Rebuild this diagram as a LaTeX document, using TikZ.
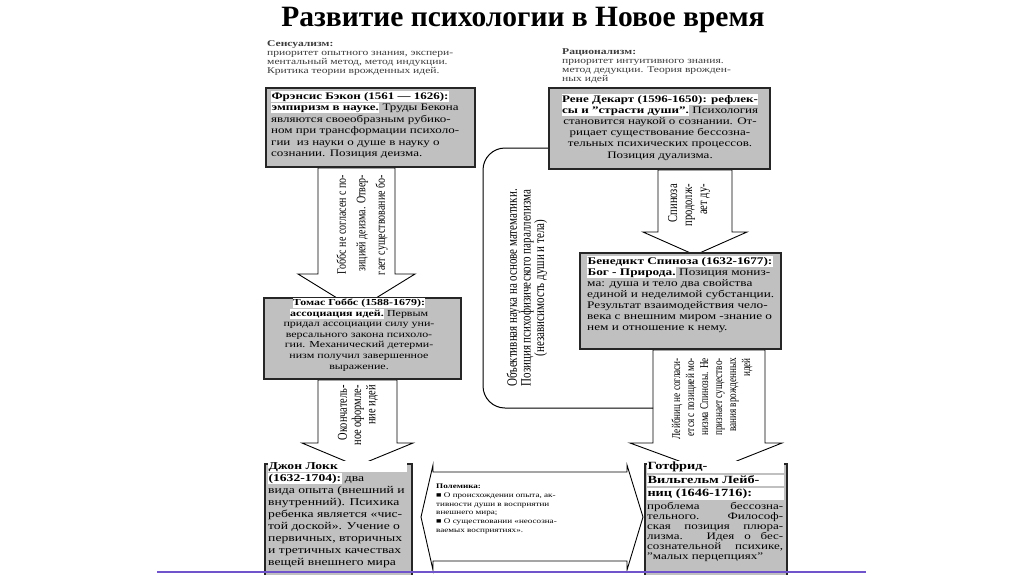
\documentclass[tikz,border=0pt]{standalone}
\usepackage{fontspec}
\setmainfont{Liberation Serif}[FakeStretch=1.3]
\newfontfamily\plainserif{Liberation Serif}
\usetikzlibrary{calc,backgrounds}
\definecolor{boxgray}{RGB}{192,192,192}
\definecolor{footline}{RGB}{112,84,204}
\definecolor{headgray}{RGB}{60,60,60}
\newcommand\hlw[1]{{\setlength{\fboxsep}{0.3pt}\colorbox{white}{\rule[-0.25em]{0pt}{1em}#1}}}
\newcommand\hlwf[2]{{\setlength{\fboxsep}{0.3pt}\colorbox{white}{\rule[-0.25em]{0pt}{1em}\makebox[#1][l]{#2}}}}
\newcommand\jline[1]{\makebox[136pt][s]{#1}}
\tikzset{
  gbox/.style={draw=black!85, line width=1.8pt, fill=boxgray, inner sep=0pt, anchor=north west},
  btext/.style={inner sep=0pt, anchor=north west, align=left, text=black},
  htext/.style={inner sep=0pt, anchor=north west, align=left, text=headgray, font=\fontsize{8.9}{9.3}\selectfont},
  bar/.style={draw=black, line width=0.9pt, fill=white, line join=miter},
  vlab/.style={rotate=90, transform shape, inner sep=0pt, align=right, text=black},
}
\begin{document}
\begin{tikzpicture}[x=1pt,y=-1pt]
\useasboundingbox (0,0) rectangle (1024,574);
% title
\node[font=\plainserif\bfseries\fontsize{29.5}{33}\selectfont] (title) at (523,20) {Развитие психологии в Новое время};
% headers
\node[htext] (sens) at (267,40) {\textbf{Сенсуализм:}\\приоритет опытного знания, экспери-\\ментальный метод, метод индукции.\\Критика теории врожденных идей.};
\node[htext] (rat) at (562,48) {\textbf{Рационализм:}\\приоритет интуитивного знания.\\метод дедукции. Теория врожден-\\ных идей};
% bracket
\draw[line width=1pt, rounded corners=22pt] (548,148) -- (483,148) -- (483,408) -- (653,408);
% boxes
\node[gbox, minimum width=209pt, minimum height=79pt] (bacon) at (265,87) {};
\node[gbox, minimum width=221pt, minimum height=81pt] (descartes) at (548,87) {};
\node[gbox, minimum width=197pt, minimum height=81pt] (hobbes) at (263,297) {};
\node[gbox, minimum width=201pt, minimum height=96pt] (spinoza) at (579,252) {};
\node[gbox, minimum width=147pt, minimum height=130pt] (locke) at (264,463) {};
\node[gbox, minimum width=142pt, minimum height=130pt] (leibniz) at (644,463) {};
% box texts
\node[btext, font=\fontsize{10}{11.5}\selectfont] (bacontxt) at (271,91) {%
\hlw{\textbf{Фрэнсис Бэкон (1561 — 1626):}}\\
\hlw{\textbf{эмпиризм в науке.}} Труды Бекона\\
являются своеобразным рубико-\\
ном при трансформации психоло-\\
гии~ из науки о душе в науку о\\
сознании. Позиция деизма.};
\node[btext, anchor=north, align=center, font=\fontsize{10}{11.2}\selectfont] (descartestxt) at (660,94) {%
\hlw{\textbf{Рене Декарт (1596-1650): рефлек-}}\\
\hlw{\textbf{сы и "страсти души".}} Психология\\
становится наукой о сознании. От-\\
рицает существование бессозна-\\
тельных психических процессов.\\
Позиция дуализма.};
\node[btext, anchor=north, align=center, font=\fontsize{9.2}{10.6}\selectfont] (hobbestxt) at (359,298) {%
\hlw{\textbf{Томас Гоббс (1588-1679):}}\\
\hlw{\textbf{ассоциация идей.}} Первым\\
придал ассоциации силу уни-\\
версального закона психоло-\\
гии. Механический детерми-\\
низм получил завершенное\\
выражение.};
\node[btext, font=\fontsize{10.2}{11}\selectfont] (spinozatxt) at (587,256) {%
\hlw{\textbf{Бенедикт Спиноза (1632-1677):}}\\
\hlw{\textbf{Бог - Природа.}} Позиция мониз-\\
ма: душа и тело два свойства\\
единой и неделимой субстанции.\\
Результат взаимодействия чело-\\
века с внешним миром -знание о\\
нем и отношение к нему.};
\node[btext, font=\fontsize{10.5}{12}\selectfont] (locketxt) at (268,461) {%
\hlwf{138pt}{\textbf{Джон Локк}}\\
\hlw{\textbf{(1632-1704):}} два\\
вида опыта (внешний и\\
внутренний). Психика\\
ребенка является «чис-\\
той доской». Учение о\\
первичных, вторичных\\
и третичных качествах\\
вещей внешнего мира};
\node[btext, font=\bfseries\fontsize{11}{13.5}\selectfont] (leibnizhead) at (647,461) {%
\hlwf{136pt}{Готфрид-}\\
\hlwf{136pt}{Вильгельм Лейб-}\\
\hlwf{136pt}{ниц (1646-1716):}};
\node[btext, font=\fontsize{10}{10}\selectfont] (leibniztxt) at (647,502) {%
\jline{проблема бессозна-}\\
\jline{тельного. Философ-}\\
\jline{ская позиция плюра-}\\
\jline{лизма. Идея о бес-}\\
\jline{сознательной психике,}\\
"малых перцепциях"};
% polemics
\node[btext, font=\fontsize{7}{8.7}\selectfont] (polemtxt) at (436,484) {%
\textbf{Полемика:}\\
■ О происхождении опыта, ак-\\
тивности души в восприятии\\
внешнего мира;\\
■ О существовании «неосозна-\\
ваемых восприятиях».};
% rotated labels
\begin{scope}[shift={(527,288)}, xscale=1.3]
\node[vlab, align=center, font=\plainserif\fontsize{11}{10.5}\selectfont] (bracketlab) at (0,0) {Объективная наука на основе математики.\\Позиция психофизического параллелизма\\(независимость души и тела)};
\end{scope}
\begin{scope}[shift={(362,225)}, xscale=1.3]
\node[vlab, font=\plainserif\fontsize{10}{15}\selectfont] (lab1) at (0,0) {Гоббс не согласен с по-\\зицией деизма. Отвер-\\гает существование бо-};
\end{scope}
\begin{scope}[shift={(358,385)}, xscale=1.3]
\node[vlab, anchor=east, font=\plainserif\fontsize{10.4}{11}\selectfont] (lab2) at (0,0) {Окончатель-\\ное оформле-\\ние идей};
\end{scope}
\begin{scope}[shift={(689,184)}, xscale=1.3]
\node[vlab, anchor=east, font=\plainserif\fontsize{10.5}{11.5}\selectfont] (lab3) at (0,0) {Спиноза\\продолж-\\ает ду-};
\end{scope}
\begin{scope}[shift={(712,358)}, xscale=1.3]
\node[vlab, anchor=east, font=\plainserif\fontsize{9.2}{10.8}\selectfont] (lab4) at (0,0) {Лейбниц не согласи-\\ется с позицией мо-\\низма Спинозы. Не\\признает существо-\\вания врожденных\\идей};
\end{scope}
% footer line
\draw[footline, line width=2.5pt] (157,572) -- (866,572);
\begin{pgfonlayer}{background}
\fill[white] (0,0) rectangle (1024,574);
\draw[bar] (318,0 |- bacon.south) -- (318,274) -- (298,274) -- (356.5,310) -- (415,274) -- (395,274) -- (395,0 |- bacon.south) -- cycle;
\draw[bar] (318,0 |- hobbes.south) -- (318,443) -- (302,443) -- (357,466) -- (413,443) -- (397,443) -- (397,0 |- hobbes.south) -- cycle;
\draw[bar] (658,0 |- descartes.south) -- (658,232) -- (643,232) -- (695,255) -- (747,232) -- (732,232) -- (732,0 |- descartes.south) -- cycle;
\draw[bar] (653,0 |- spinoza.south) -- (653,443) -- (630,443) -- (709,472) -- (782,443) -- (765,443) -- (765,0 |- spinoza.south) -- cycle;
\draw[bar] (421,517) -- (433,465) -- (433,472) -- (627,472) -- (627,465) -- (643,517) -- (627,570) -- (627,561) -- (433,561) -- (433,570) -- cycle;
\end{pgfonlayer}
\end{tikzpicture}
\end{document}
